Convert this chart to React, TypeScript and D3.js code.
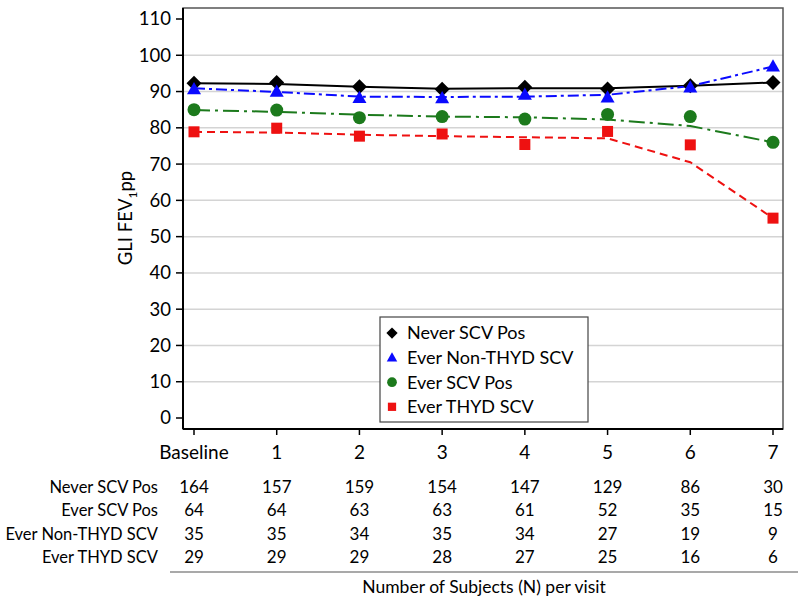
import React from "react";
import * as d3 from "d3";

const visits = ["Baseline", "1", "2", "3", "4", "5", "6", "7"];
const yTicks = [0, 10, 20, 30, 40, 50, 60, 70, 80, 90, 100, 110];

const neverMean = [92.3, 92.5, 91.3, 90.6, 91.2, 90.7, 91.6, 92.5];
const neverFit = [92.3, 92.1, 91.3, 90.8, 90.9, 90.9, 91.6, 92.5];
const nonThydMean = [90.7, 90.0, 88.3, 88.2, 89.2, 88.4, 91.2, 97.0];
const nonThydFit = [90.9, 89.9, 88.6, 88.5, 88.6, 89.1, 91.5, 96.9];
const everMean = [85.0, 84.9, 82.8, 83.1, 82.4, 83.7, 83.1, 76.0];
const everFit = [84.9, 84.4, 83.6, 83.1, 82.9, 82.3, 80.5, 76.0];
const thydMean = [78.9, 79.9, 77.7, 78.3, 75.4, 79.0, 75.3, 55.1];
const thydFit = [78.9, 78.7, 78.1, 77.7, 77.4, 77.1, 70.5, 55.1];

const tableLabels = ["Never SCV Pos", "Ever SCV Pos", "Ever Non-THYD SCV", "Ever THYD SCV"];
const nNever = [164, 157, 159, 154, 147, 129, 86, 30];
const nEver = [64, 64, 63, 63, 61, 52, 35, 15];
const nNonThyd = [35, 35, 34, 35, 34, 27, 19, 9];
const nThyd = [29, 29, 29, 28, 27, 25, 16, 6];
const tableRows = [nNever, nEver, nNonThyd, nThyd];

const legendLabels = ["Never SCV Pos", "Ever Non-THYD SCV", "Ever SCV Pos", "Ever THYD SCV"];

const FONT = "Lato, 'Open Sans', sans-serif";

type Series = {
  name: string;
  mean: number[];
  fit: number[];
  color: string;
  dash: string | undefined;
  shape: string;
};

const series: Series[] = [
  { name: legendLabels[0], mean: neverMean, fit: neverFit, color: "#000000", dash: undefined, shape: "diamond" },
  { name: legendLabels[1], mean: nonThydMean, fit: nonThydFit, color: "#0a0aff", dash: "11,4,3,4", shape: "triangle" },
  { name: legendLabels[2], mean: everMean, fit: everFit, color: "#1c7a1c", dash: "16,5,3,5", shape: "circle" },
  { name: legendLabels[3], mean: thydMean, fit: thydFit, color: "#ee1111", dash: "8,5", shape: "square" },
];

function Marker({ shape, x, y, color, scale = 1 }: { shape: string; x: number; y: number; color: string; scale?: number }) {
  if (shape === "diamond") {
    const r = 7.5 * scale;
    return <path d={`M${x},${y - r}L${x + r},${y}L${x},${y + r}L${x - r},${y}Z`} fill={color} />;
  }
  if (shape === "triangle") {
    const r = 7 * scale;
    return <path d={`M${x},${y - r}L${x + r},${y + r * 0.75}L${x - r},${y + r * 0.75}Z`} fill={color} />;
  }
  if (shape === "circle") {
    return <circle cx={x} cy={y} r={6.5 * scale} fill={color} />;
  }
  const s = 11 * scale;
  return <rect x={x - s / 2} y={y - s / 2} width={s} height={s} fill={color} />;
}

export default function App() {
  const x = d3.scalePoint<string>().domain(visits).range([194, 773]);
  const y = d3.scaleLinear().domain([0, 110]).range([418, 19]);
  const left = 183, right = 783, top = y(110) - 11, bottom = y(0) + 11;

  const line = d3
    .line<number>()
    .x((_, i) => x(visits[i]) as number)
    .y((d) => y(d));

  const rowY = [487, 510, 534, 557];
  const legX = 380, legY = 317, legW = 208, legH = 105;

  return (
    <svg width={800} height={597} style={{ position: "absolute", left: 0, top: 0, background: "#fff" }} fontFamily={FONT}>
      <rect x={0} y={0} width={800} height={597} fill="#fff" />
      {yTicks.filter((t) => t > 0 && t < 110).map((t) => (
        <line key={t} x1={left} x2={right} y1={y(t)} y2={y(t)} stroke="#d4d4d4" strokeWidth={1.5} />
      ))}
      <rect x={left} y={top} width={right - left} height={bottom - top} fill="none" stroke="#555" strokeWidth={1.5} />
      <line x1={left} x2={left} y1={top} y2={bottom} stroke="#000" strokeWidth={2} />
      <line x1={left} x2={right} y1={bottom} y2={bottom} stroke="#000" strokeWidth={2} />
      {yTicks.map((t) => (
        <g key={t}>
          <line x1={left - 7} x2={left} y1={y(t)} y2={y(t)} stroke="#000" strokeWidth={1.5} />
          <text x={171} y={y(t)} dy="0.35em" textAnchor="end" fontSize={18.5} fill="#000">
            {t}
          </text>
        </g>
      ))}
      {visits.map((v) => (
        <g key={v}>
          <line x1={x(v)} x2={x(v)} y1={bottom} y2={bottom + 6} stroke="#000" strokeWidth={1.5} />
          <text x={x(v)} y={452} dy="0.35em" textAnchor="middle" fontSize={19} fill="#000">
            {v}
          </text>
        </g>
      ))}
      <text transform="translate(132,218) rotate(-90)" textAnchor="middle" fontSize={18.5} fill="#000">
        GLI FEV
        <tspan fontSize={12} dy={5}>1</tspan>
        <tspan dy={-5}>pp</tspan>
      </text>
      {series.map((s) => (
        <path key={s.name} d={line(s.fit) || ""} fill="none" stroke={s.color} strokeWidth={2} strokeDasharray={s.dash} />
      ))}
      {series.map((s) => (
        <g key={s.name + "m"}>
          {s.mean.map((v, i) => (
            <Marker key={i} shape={s.shape} x={x(visits[i]) as number} y={y(v)} color={s.color} />
          ))}
        </g>
      ))}
      <rect x={legX} y={legY} width={legW} height={legH} fill="#fff" stroke="#444" strokeWidth={1.2} />
      {series.map((s, i) => {
        const cy = legY + 16 + i * 24.6;
        return (
          <g key={s.name + "l"}>
            <Marker shape={s.shape} x={legX + 12} y={cy} color={s.color} scale={0.75} />
            <text x={legX + 27} y={cy} dy="0.35em" fontSize={18} fill="#000">
              {s.name}
            </text>
          </g>
        );
      })}
      {tableLabels.map((lab, r) => (
        <g key={lab}>
          <text x={158} y={rowY[r]} dy="0.35em" textAnchor="end" fontSize={16.5} fill="#000">
            {lab}
          </text>
          {tableRows[r].map((n, i) => (
            <text key={i} x={x(visits[i])} y={rowY[r]} dy="0.35em" textAnchor="middle" fontSize={17} fill="#000">
              {n}
            </text>
          ))}
        </g>
      ))}
      <line x1={170} x2={798} y1={572} y2={572} stroke="#555" strokeWidth={1.2} />
      <text x={484} y={587} dy="0.35em" textAnchor="middle" fontSize={17.5} fill="#000">
        Number of Subjects (N) per visit
      </text>
    </svg>
  );
}
